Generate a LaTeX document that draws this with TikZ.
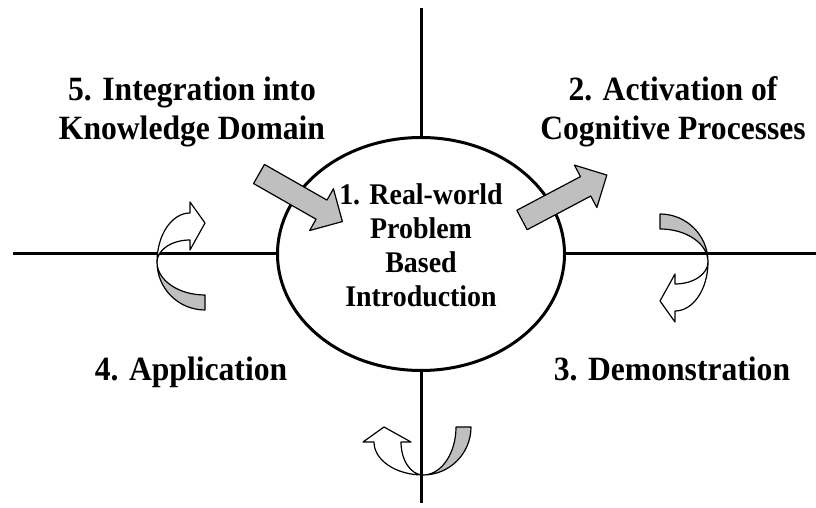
\documentclass[tikz,border=0pt]{standalone}
\usepackage{fontspec}
\setmainfont{Liberation Serif}[FakeStretch=0.93]
\usetikzlibrary{shapes.geometric,positioning}

\begin{document}
\begin{tikzpicture}[x=1pt,y=1pt,on grid,
	axis/.style={line width=3pt},
	hubshape/.style={draw,ellipse,line width=3pt,fill=white,minimum width=287pt,minimum height=233pt,inner sep=0pt},
	phase/.style={font=\fontsize{34}{39}\selectfont\bfseries,align=center,inner sep=0pt},
	phaseline/.style={phase,text height=24pt,text depth=7.5pt},
	hubtext/.style={font=\fontsize{30}{34}\selectfont\bfseries,align=center,inner sep=0pt},
	backside/.style={draw,line width=1.2pt,fill=black!25,line join=round},
	frontside/.style={draw,line width=1.2pt,fill=white,line join=round},
	blockarrow/.pic={\draw[backside] (0,-11) -- (72,-11) -- (72,-24) -- (96,0) -- (72,24) -- (72,11) -- (0,11) -- cycle;},
	uturn/.pic={
		\draw[backside] (0,0) arc[start angle=180,end angle=270,radius=48] -- (48,-33) arc[start angle=270,end angle=180,x radius=48,y radius=33] -- cycle;
		\draw[frontside] (0,0) arc[start angle=180,end angle=90,x radius=33,y radius=49] -- (33,60) -- (48,39) -- (33,12) -- (33,22) arc[start angle=90,end angle=180,x radius=33,y radius=22] -- cycle;
	}]
\useasboundingbox (0,0) rectangle (816,508);

\coordinate	(axtop)		at (421,500);
\coordinate	(axbot)		at (421,5);
\coordinate	(axleft)	at (13,254);
\coordinate	(axright)	at (816,254);

\node[hubshape]		(hub)		at (421,254)						{};
\draw[axis] (hub.north) -- (axtop);
\draw[axis] (hub.south) -- (axbot);
\draw[axis] (hub.west) -- (axleft);
\draw[axis] (hub.east) -- (axright);

\node[hubtext]		(problem)	[above=9pt of hub]					{1. Real-world\\Problem\\Based\\Introduction};
\node[phase]		(integ)		[above left=142pt and 229pt of hub]	{5. Integration into\\Knowledge Domain};
\node[phase]		(activ)		[above right=142pt and 252pt of hub]	{2. Activation of\\Cognitive Processes};
\node[phaseline]	(appl)		[below left=118pt and 230pt of hub]	{4. Application};
\node[phaseline]	(demo)		[below right=118pt and 251pt of hub]	{3. Demonstration};

\pic[rotate=-29.7]	at (259,334)	{blockarrow};
\pic[rotate=27.9]	at (522,288)	{blockarrow};

\pic				at (157,246)	{uturn};
\pic[rotate=180]	at (708,246)	{uturn};
\pic[rotate=90]		at (423,33)		{uturn};
\end{tikzpicture}
\end{document}
